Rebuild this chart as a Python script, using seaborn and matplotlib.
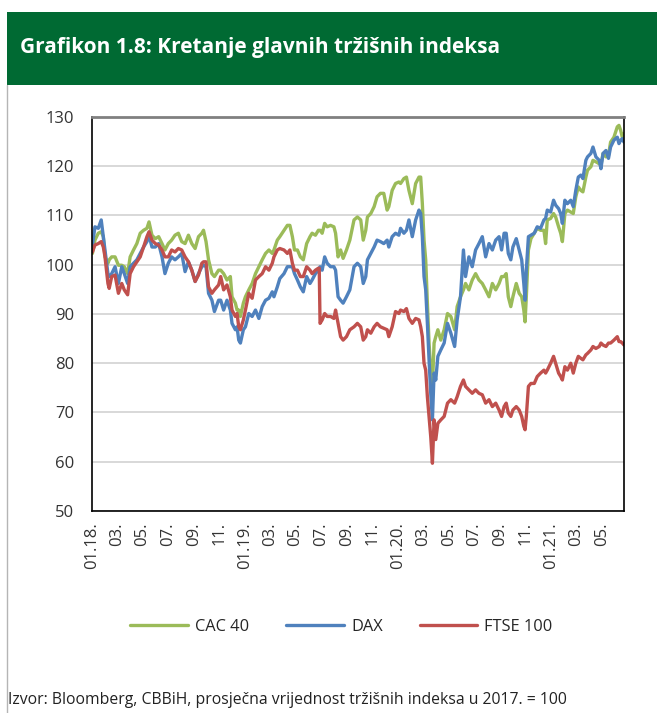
import matplotlib
matplotlib.use("Agg")
import matplotlib.pyplot as plt
import matplotlib.dates as mdates
from matplotlib.patches import Rectangle
from matplotlib.lines import Line2D
from matplotlib.ticker import FuncFormatter
import pandas as pd
import seaborn as sns

# dani od 01.01.2018. (ocitano sa grafikona)
day_offset = [
    1, 7, 15, 22, 27, 31, 38, 41, 47, 55, 63, 71, 77, 85, 91, 99, 107, 115, 123, 131,
    136, 143, 151, 159, 167, 174, 182, 190, 198, 206, 214, 222, 230, 238, 246, 254, 262, 266, 272, 278,
    286, 292, 302,
    307, 314, 322, 330, 334, 342, 346, 350, 354, 361, 366, 374, 382, 390, 398, 406, 414, 422, 430, 434,
    442, 448, 458, 466, 472, 478, 483, 490, 497, 504, 512, 520, 525, 533, 540, 542, 544, 549, 555, 561,
    569, 577, 581, 587, 593, 599, 607, 615,
    625, 633, 641, 647, 653, 657, 665, 673, 680, 688, 696, 704, 708, 716, 724, 732, 736, 744, 750, 756,
    764, 772, 780, 784, 788, 792, 796, 800, 804, 808, 812, 816, 820, 825, 832, 840, 848, 856, 865, 871,
    879, 886, 891, 899, 907, 915, 923, 931,
    939, 947, 955, 963, 971, 977, 983, 988, 993, 999, 1004, 1012, 1019, 1025, 1030, 1033, 1036, 1041, 1047, 1055,
    1062, 1070, 1078, 1082, 1086, 1094, 1101, 1106, 1113, 1118, 1122, 1128, 1134, 1142, 1148, 1154, 1160, 1166, 1171, 1178,
    1182, 1190, 1195, 1202, 1210, 1214, 1219, 1226, 1232, 1237, 1245, 1253, 1257, 1261, 1265, 1269,
]

cac40 = [
    102.3, 105.0, 106.4, 106.7, 105.7, 101.6, 100.3, 101.0, 101.6, 101.6, 99.9, 99.9, 99.6, 98.2, 101.6, 103.0, 104.3, 106.4, 107.0, 107.4,
    108.7, 106.0, 105.3, 105.7, 104.3, 103.0, 104.3, 105.0, 106.0, 106.4, 104.7, 104.3, 106.0, 104.3, 103.3, 105.7, 106.4, 107.0, 104.7, 101.0,
    98.2, 97.6, 98.9,
    98.9, 98.2, 96.9, 97.6, 93.5, 92.2, 90.8, 90.8, 89.5, 92.2, 93.5, 94.9, 96.2, 98.2, 99.6, 101.0, 102.3, 103.0, 102.3, 103.0,
    105.0, 105.7, 107.0, 108.0, 108.0, 105.7, 103.0, 103.0, 101.6, 101.0, 104.3, 105.7, 106.4, 106.0, 107.0, 107.0, 107.0, 106.4, 108.4, 107.7,
    108.0, 107.7, 106.4, 101.6, 103.0, 101.3, 103.0, 105.0,
    109.1, 109.7, 109.1, 105.0, 107.0, 109.7, 110.4, 111.8, 113.8, 114.5, 114.5, 111.1, 111.8, 115.1, 116.5, 116.8, 116.5, 117.5, 117.8, 115.1,
    112.4, 116.5, 117.8, 117.8, 112.4, 105.0, 101.0, 92.2, 84.1, 78.6, 75.3, 84.1, 85.4, 86.8, 84.7, 86.8, 90.1, 89.5, 86.8, 91.5,
    93.5, 94.9, 96.2, 94.9, 96.9, 98.2, 96.9, 96.2,
    94.9, 93.5, 96.2, 94.9, 96.2, 97.6, 97.6, 98.2, 93.5, 91.5, 93.5, 96.2, 94.2, 93.5, 90.8, 88.4, 93.5, 103.0, 105.3, 106.4,
    107.4, 107.0, 107.0, 104.3, 109.1, 109.4, 110.4, 109.7, 107.7, 106.4, 104.7, 110.4, 111.1, 110.7, 110.4, 113.8, 115.8, 115.1, 114.8, 117.8,
    119.2, 119.9, 121.2, 120.9, 120.5, 120.2, 122.6, 121.9, 122.2, 124.9, 125.9, 128.0, 128.3, 127.3, 125.9, 126.6,
]

dax = [
    104.0, 107.7, 107.4, 109.1, 105.7, 103.0, 98.2, 97.6, 98.2, 99.6, 96.2, 99.6, 98.2, 96.2, 99.6, 100.3, 101.0, 102.3, 103.6, 104.7,
    106.0, 103.6, 103.6, 104.3, 101.6, 98.2, 100.3, 101.6, 101.0, 101.6, 102.3, 98.6, 100.6, 98.9, 96.6, 98.2, 99.6, 99.9, 99.6, 94.2,
    92.8, 90.5, 92.8,
    92.8, 90.8, 92.8, 90.8, 88.1, 86.8, 87.4, 84.7, 84.1, 86.8, 87.4, 90.1, 89.5, 90.8, 89.1, 91.5, 92.8, 93.2, 94.5, 93.5,
    95.5, 97.2, 98.2, 99.6, 99.6, 99.6, 98.2, 96.9, 95.5, 94.5, 97.6, 96.2, 96.9, 98.2, 98.9, 99.3, 99.6, 98.9, 101.6, 100.3,
    99.6, 99.6, 98.9, 93.5, 92.8, 92.2, 93.5, 94.9,
    99.6, 100.3, 99.6, 96.2, 97.6, 101.0, 102.3, 103.6, 105.0, 104.7, 104.3, 105.0, 103.6, 105.7, 106.4, 106.0, 107.4, 106.4, 107.0, 109.1,
    105.7, 109.1, 111.1, 110.4, 105.7, 97.6, 94.9, 88.1, 80.7, 73.9, 68.5, 78.0, 76.6, 81.4, 82.7, 84.1, 88.1, 86.1, 83.4, 88.8,
    93.5, 103.0, 97.6, 101.6, 99.6, 103.0, 104.3, 105.7,
    101.6, 104.3, 103.0, 105.0, 105.7, 103.0, 106.4, 106.4, 102.3, 101.0, 103.6, 105.3, 103.0, 101.0, 96.2, 92.8, 98.9, 105.7, 106.0, 106.4,
    107.7, 107.4, 109.1, 109.4, 111.1, 110.7, 113.1, 112.1, 111.4, 110.4, 108.4, 113.1, 112.4, 113.1, 111.8, 115.1, 117.8, 118.2, 117.5, 121.2,
    121.9, 122.6, 123.9, 121.9, 121.2, 119.5, 122.6, 123.2, 121.6, 123.9, 125.3, 125.9, 124.6, 125.3, 125.6, 124.9,
]

ftse100 = [
    102.6, 104.0, 104.3, 104.7, 103.6, 101.6, 96.2, 95.2, 97.6, 97.9, 94.2, 96.2, 94.9, 93.9, 98.2, 99.6, 100.6, 101.6, 103.6, 105.7,
    106.7, 105.0, 104.3, 104.0, 103.0, 101.6, 101.6, 103.0, 102.6, 103.3, 103.0, 101.6, 100.6, 98.9, 96.6, 97.9, 100.3, 100.6, 100.6, 95.5,
    94.2, 94.9, 95.9,
    97.6, 94.9, 95.9, 93.5, 90.8, 89.5, 90.1, 87.4, 86.8, 88.8, 90.8, 94.2, 93.2, 96.9, 97.6, 98.2, 99.6, 98.9, 100.3, 101.6,
    103.0, 103.3, 103.0, 102.3, 103.0, 100.3, 98.9, 98.9, 97.6, 97.6, 99.6, 98.9, 98.2, 98.9, 99.3, 99.3, 88.1, 88.8, 90.1, 89.5,
    89.5, 89.1, 90.8, 88.1, 85.4, 84.7, 85.4, 86.8,
    87.4, 88.1, 87.4, 84.7, 85.4, 86.8, 86.1, 87.4, 88.1, 87.4, 87.1, 86.8, 85.4, 87.4, 90.5, 90.1, 90.8, 90.5, 91.1, 89.1,
    88.1, 89.1, 88.8, 87.4, 85.4, 80.0, 78.6, 73.2, 69.2, 65.1, 59.7, 68.5, 64.5, 67.8, 68.5, 69.2, 71.9, 72.6, 71.9, 73.2,
    75.3, 76.6, 75.3, 74.6, 73.9, 74.6, 73.9, 73.6,
    71.9, 72.6, 71.2, 71.9, 70.5, 69.2, 71.2, 71.9, 69.9, 69.2, 70.5, 71.2, 70.5, 69.2, 67.2, 66.5, 69.2, 75.3, 75.9, 75.9,
    77.3, 78.0, 78.6, 78.0, 78.6, 80.0, 81.4, 80.0, 78.0, 77.3, 76.6, 79.3, 78.6, 80.0, 78.0, 80.0, 81.4, 81.0, 80.7, 81.7,
    82.0, 82.7, 83.4, 83.0, 83.4, 84.1, 83.7, 83.4, 84.1, 84.1, 84.7, 85.4, 84.4, 84.4, 84.1, 83.7,
]

series_names = ["CAC 40", "DAX", "FTSE 100"]
series_colors = ["#9BBB59", "#4F81BD", "#C0504D"]
y_ticks = [50, 60, 70, 80, 90, 100, 110, 120, 130]

dates = pd.Timestamp("2018-01-01") + pd.to_timedelta(day_offset, unit="D")
df = pd.DataFrame({"date": dates, "CAC 40": cac40, "DAX": dax, "FTSE 100": ftse100})
df_long = df.melt(id_vars="date", var_name="indeks", value_name="vrijednost")

sns.set_style("white")
plt.rcParams["font.family"] = ["Open Sans", "DejaVu Sans"]

W, H = 657, 713
fig = plt.figure(figsize=(W / 100, H / 100), dpi=100)

# zeleno zaglavlje i lijevi okvir
fig.add_artist(Rectangle((7 / W, 1 - 85 / H), 650 / W, 73 / H, transform=fig.transFigure,
                         color="#006a33", lw=0))
fig.add_artist(Line2D([7 / W, 7 / W], [0, 1 - 85 / H], transform=fig.transFigure,
                      color="#b5b5b5", lw=1))
fig.text(20 / W, 1 - 48 / H, "Grafikon 1.8: Kretanje glavnih tržišnih indeksa",
         color="white", fontweight="bold", fontsize=15, va="center")

ax = fig.add_axes([92 / W, 1 - 511 / H, 532 / W, 394 / H])
sns.lineplot(data=df_long, x="date", y="vrijednost", hue="indeks",
             palette=dict(zip(series_names, series_colors)), hue_order=series_names,
             linewidth=2.4, ax=ax)

ax.set_ylim(50, 130)
ax.set_yticks(y_ticks)
ax.set_xlim(pd.Timestamp("2018-01-01"), dates[-1])
ax.set_xlabel("")
ax.set_ylabel("")
ax.grid(axis="y", color="#d6d6d6", lw=1.3)
ax.set_axisbelow(True)

for side in ["left", "bottom", "right"]:
    ax.spines[side].set_color("black")
    ax.spines[side].set_linewidth(1.2)
ax.spines["top"].set_color("#808080")
ax.spines["top"].set_linewidth(2)

ax.tick_params(axis="y", direction="inout", length=12.2, width=1.3, color="#a6a6a6",
               labelsize=12, labelcolor="#333333", pad=6.8)
ax.tick_params(axis="x", length=0, labelsize=12, labelcolor="#333333", pad=8,
               labelrotation=90)

ax.xaxis.set_major_locator(mdates.MonthLocator(bymonth=[1, 3, 5, 7, 9, 11]))


def month_label(x, pos):
    d = mdates.num2date(x)
    if d.month == 1:
        return d.strftime("%m.%y.")
    return d.strftime("%m.")


ax.xaxis.set_major_formatter(FuncFormatter(month_label))

sns.move_legend(ax, "center", bbox_to_anchor=(0.469, -0.294), ncol=3, frameon=False,
                title=None, handlelength=3.5, handletextpad=0.45, columnspacing=2.25,
                fontsize=11.8)

fig.text(8 / W, 1 - 700 / H,
         "Izvor: Bloomberg, CBBiH, prosječna vrijednost tržišnih indeksa u 2017. = 100",
         fontsize=11.3, va="center", color="#222222")

fig.savefig("out.png", dpi=100)
